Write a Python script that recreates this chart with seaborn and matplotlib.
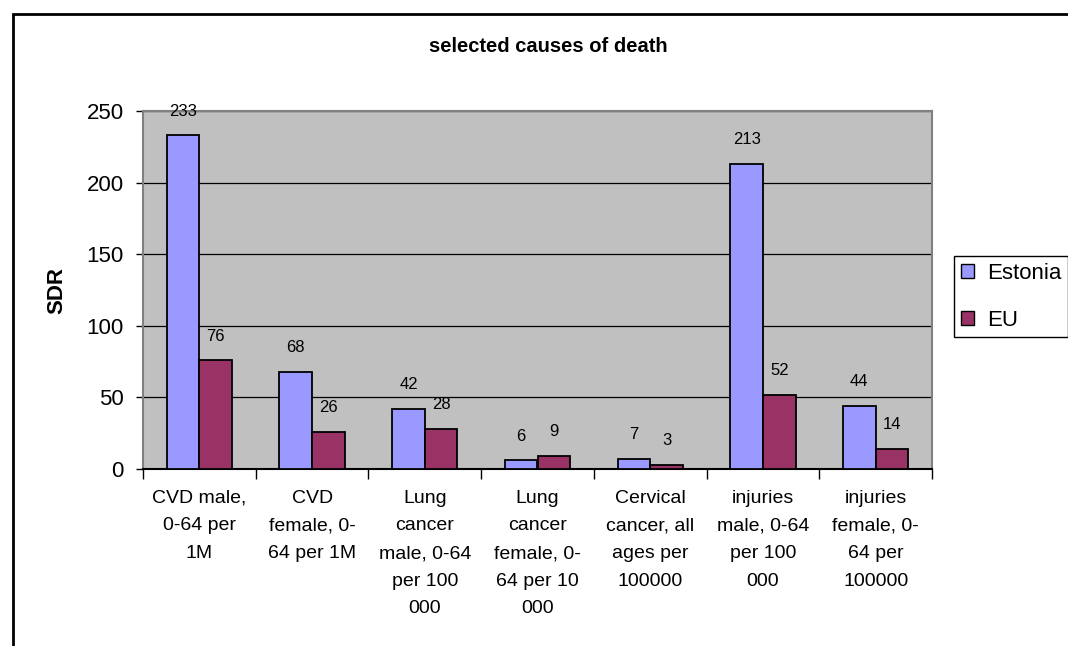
import numpy as np
import pandas as pd
import matplotlib.pyplot as plt
import matplotlib.patches as mpatches
import seaborn as sns

# Daten aus dem Diagramm
categories = [
    "CVD male,\n0-64 per\n1M",
    "CVD\nfemale, 0-\n64 per 1M",
    "Lung\ncancer\nmale, 0-64\nper 100\n000",
    "Lung\ncancer\nfemale, 0-\n64 per 10\n000",
    "Cervical\ncancer, all\nages per\n100000",
    "injuries\nmale, 0-64\nper 100\n000",
    "injuries\nfemale, 0-\n64 per\n100000",
]
estonia = [233, 68, 42, 6, 7, 213, 44]
eu = [76, 26, 28, 9, 3, 52, 14]
series = ["Estonia", "EU"]
colors = ["#9999FF", "#993366"]

df = pd.DataFrame({
    "cat": categories * 2,
    "val": estonia + eu,
    "land": ["Estonia"] * len(estonia) + ["EU"] * len(eu),
})

sns.set_style("white")
plt.rcParams["font.family"] = ["Liberation Sans", "DejaVu Sans"]
plt.rcParams["text.color"] = "black"
plt.rcParams["xtick.color"] = "black"
plt.rcParams["ytick.color"] = "black"
plt.rcParams["axes.labelcolor"] = "black"

fig = plt.figure(figsize=(10.68, 6.46), dpi=100)
ax = fig.add_axes([143 / 1068, 1 - 469 / 646, (932 - 143) / 1068, (469 - 111) / 646])
ax.set_facecolor("#C0C0C0")

sns.barplot(data=df, x="cat", y="val", hue="land", palette=colors,
            width=0.58, edgecolor="black", linewidth=1.3, saturation=1,
            ax=ax, zorder=3)

for cont in ax.containers:
    ax.bar_label(cont, padding=12, fontsize=12)

ax.set_ylim(0, 250)
ax.set_xlim(-0.5, 6.5)
ax.set_yticks(np.arange(0, 251, 50))
ax.tick_params(axis="y", labelsize=16, length=5, width=1, left=True, pad=9)
ax.yaxis.grid(True, color="black", linewidth=0.9, zorder=1)
ax.set_axisbelow(True)

ax.set_xticks(range(len(categories)))
ax.set_xticklabels(categories, fontsize=14, linespacing=1.82, va="top")
ax.tick_params(axis="x", length=0, pad=15)
ax.set_xticks(np.arange(-0.5, 7, 1), minor=True)
ax.tick_params(axis="x", which="minor", length=7, width=1, bottom=True)

for side in ["top", "right", "left"]:
    ax.spines[side].set_color("#808080")
    ax.spines[side].set_linewidth(1.5)
ax.spines["bottom"].set_color("black")
ax.spines["bottom"].set_linewidth(1.5)

ax.set_xlabel("")
ax.set_ylabel("SDR", fontsize=16, fontweight="bold", labelpad=13.5)
fig.text(548 / 1068, 1 - 47 / 646, "selected causes of death", fontsize=14.5,
         fontweight="bold", ha="center", va="center")

handles = [mpatches.Patch(facecolor=c, edgecolor="black", label=s) for c, s in zip(colors, series)]
ax.legend(handles=handles, loc="upper left", bbox_to_anchor=(954 / 1068, 1 - 256 / 646),
          bbox_transform=fig.transFigure, fontsize=16, frameon=True, fancybox=False,
          edgecolor="black", framealpha=1, handlelength=0.62, handleheight=0.62,
          handletextpad=0.55, labelspacing=1.17, borderpad=0.3, borderaxespad=0)

# Rahmen um das ganze Diagramm
fig.patches.append(mpatches.Rectangle((13 / 1068, -0.1), 1.2, 1.1 - 14 / 646,
                                      transform=fig.transFigure, fill=False,
                                      edgecolor="black", linewidth=2))

fig.savefig("out.png", dpi=100)
